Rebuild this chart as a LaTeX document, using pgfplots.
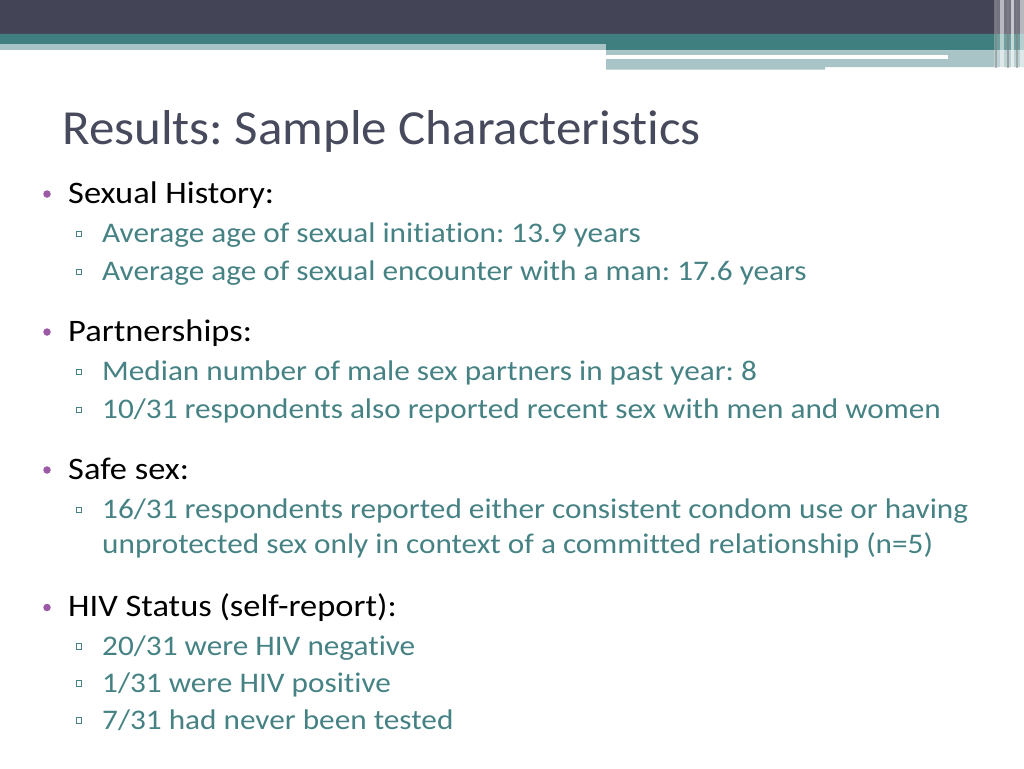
\documentclass[border=0pt]{standalone}
\usepackage{pgfplots}
\pgfplotsset{compat=1.18}
\usepackage{fontspec}
\setmainfont{Carlito}[FakeStretch=1.10, Ligatures={NoCommon}]
\newfontfamily\titlefont{Carlito}[FakeStretch=1.04, Ligatures={NoCommon}]
\frenchspacing
\definecolor{darkbar}{HTML}{434456}
\definecolor{tealbar}{HTML}{3F7F80}
\definecolor{lightbar}{HTML}{A8C4C6}
\definecolor{titlecol}{HTML}{464A5C}
\definecolor{purp}{HTML}{9B59A6}
\definecolor{subcol}{HTML}{468284}
\tikzset{
  mtext/.style={anchor=base west, inner sep=0, text=black, font=\fontsize{31.3}{36}\selectfont},
  stext/.style={anchor=base west, inner sep=0, text=subcol, font=\fontsize{28.4}{33}\selectfont},
  mdot/.style={circle, fill=purp, inner sep=0, minimum size=7.5pt},
  sbox/.style={draw=subcol, line width=0.8pt, fill=white, inner sep=0, minimum size=5.5pt},
}
\begin{document}
\begin{tikzpicture}
\begin{axis}[
  scale only axis, width=1024pt, height=768pt,
  xmin=0, xmax=1024, ymin=0, ymax=768, y dir=reverse,
  hide axis, clip=false,
]
% background
\addplot[fill=white, draw=none] coordinates {(0,0) (1024,0) (1024,768) (0,768)} -- cycle;
% header bars
\addplot[fill=darkbar, draw=none] coordinates {(0,0) (1024,0) (1024,34) (0,34)} -- cycle;
\addplot[fill=tealbar, draw=none] coordinates {(0,34) (1024,34) (1024,50.5) (606,50.5) (606,44.5) (0,44.5)} -- cycle;
\addplot[fill=lightbar, draw=none] coordinates {(0,44.5) (606,44.5) (606,50.5) (0,50.5)} -- cycle;
\addplot[fill=lightbar, draw=none] coordinates {(606,50.5) (1024,50.5) (1024,67) (825,67) (825,69.5) (606,69.5)} -- cycle;
\addplot[fill=white, draw=none] coordinates {(606,55.5) (948,55.5) (948,58.5) (606,58.5)} -- cycle;
% right vertical stripes
\addplot[fill=white, fill opacity=0.25, draw=none] coordinates {(994,0) (1024,0) (1024,69) (994,69)} -- cycle;
\addplot[fill=gray, fill opacity=0.5, draw=none] coordinates {(995,0) (997,0) (997,68) (995,68)} -- cycle;
\addplot[fill=white, fill opacity=0.5, draw=none] coordinates {(1000,0) (1004,0) (1004,68) (1000,68)} -- cycle;
\addplot[fill=gray, fill opacity=0.6, draw=none] coordinates {(1007,0) (1009,0) (1009,68) (1007,68)} -- cycle;
\addplot[fill=white, fill opacity=0.6, draw=none] coordinates {(1011,0) (1014,0) (1014,68) (1011,68)} -- cycle;
\addplot[fill=gray, fill opacity=0.5, draw=none] coordinates {(1016,0) (1018,0) (1018,68) (1016,68)} -- cycle;
\addplot[fill=white, fill opacity=0.5, draw=none] coordinates {(1020,0) (1024,0) (1024,68) (1020,68)} -- cycle;

% title
\node[anchor=base west, inner sep=0, text=titlecol, font=\titlefont\fontsize{49}{55}\selectfont] at (axis cs:62,144.3) {Results: Sample Characteristics};

% main bullets
\node[mdot] at (axis cs:47,194) {};
\node[mtext] at (axis cs:68,203) {Sexual History:};
\node[mdot] at (axis cs:47,332) {};
\node[mtext] at (axis cs:68,341) {Partnerships:};
\node[mdot] at (axis cs:47,470) {};
\node[mtext] at (axis cs:68,479) {Safe sex:};
\node[mdot] at (axis cs:47,607.5) {};
\node[mtext] at (axis cs:68,616.5) {HIV Status (self-report):};

% sub bullets
\node[sbox] at (axis cs:79,234) {};
\node[stext] at (axis cs:102,242.5) {Average age of sexual initiation: 13.9 years};
\node[sbox] at (axis cs:79,272) {};
\node[stext] at (axis cs:102,280.5) {Average age of sexual encounter with a man: 17.6 years};
\node[sbox] at (axis cs:79,372) {};
\node[stext] at (axis cs:102,380.5) {Median number of male sex partners in past year: 8};
\node[sbox] at (axis cs:79,410) {};
\node[stext] at (axis cs:102,418.5) {10/31 respondents also reported recent sex with men and women};
\node[sbox] at (axis cs:79,510) {};
\node[stext] at (axis cs:102,518.5) {16/31 respondents reported either consistent condom use or having};
\node[stext] at (axis cs:102,553.5) {unprotected sex only in context of a committed relationship (n=5)};
\node[sbox] at (axis cs:79,646.5) {};
\node[stext] at (axis cs:102,655) {20/31 were HIV negative};
\node[sbox] at (axis cs:79,683.5) {};
\node[stext] at (axis cs:102,692) {1/31 were HIV positive};
\node[sbox] at (axis cs:79,720.5) {};
\node[stext] at (axis cs:102,729) {7/31 had never been tested};
\end{axis}
\end{tikzpicture}
\end{document}
